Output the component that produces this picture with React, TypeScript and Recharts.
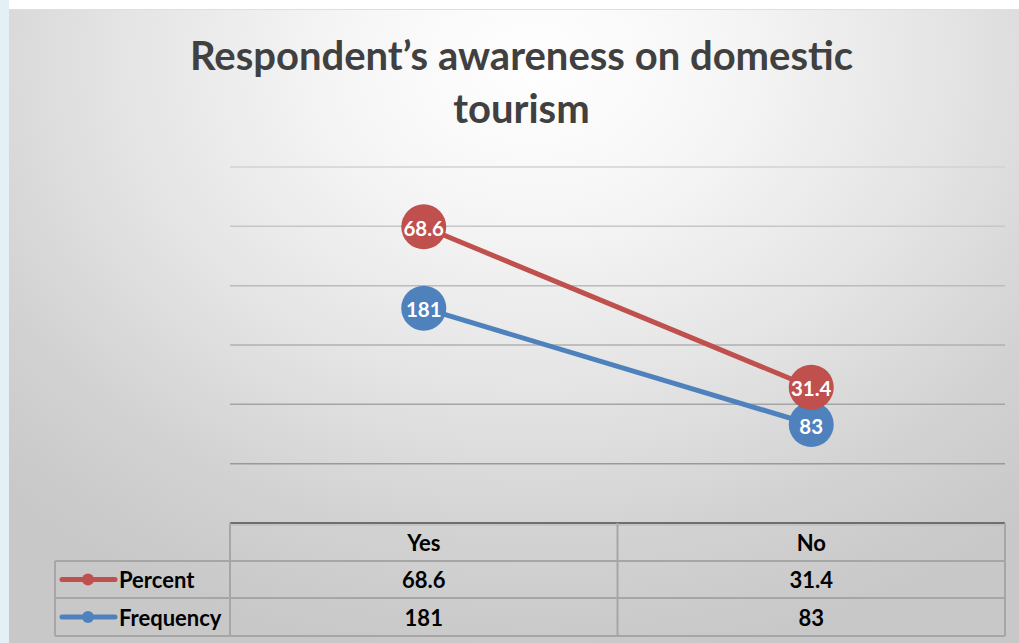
import React from 'react';
import { ComposedChart, Area, XAxis, YAxis, CartesianGrid, LabelList } from 'recharts';

const categories = ['Yes', 'No'];
const percentValues = [68.6, 31.4];
const frequencyValues = [181, 83];
const yTicks = [0, 50, 100, 150, 200, 250, 300];

const seriesInfo = [
  { key: 'percent', name: 'Percent', color: '#c0504d', values: percentValues },
  { key: 'frequency', name: 'Frequency', color: '#4f81bd', values: frequencyValues },
];

const data = categories.map((c, i) => ({
  cat: c,
  percent: percentValues[i],
  frequency: frequencyValues[i],
}));

const W = 1019;
const H = 643;
const PLOT_LEFT = 230;
const PLOT_RIGHT = 1005;
const PLOT_TOP = 167;
const PLOT_BOTTOM = 523;
const FONT = 'Lato, "Open Sans", sans-serif';
const DOT_R = 22.5;

const renderLabel = (props: any) => {
  const { x, y, value } = props;
  return (
    <text
      x={x}
      y={y + 1}
      textAnchor="middle"
      dominantBaseline="central"
      fill="#ffffff"
      fontFamily={FONT}
      fontWeight={700}
      fontSize={20.5}
    >
      {value}
    </text>
  );
};

const makeDot = (color: string) => (p: any) => {
  if (p.cx == null || p.cy == null) return <g key={p.index} />;
  return <circle key={p.index} cx={p.cx} cy={p.cy} r={DOT_R} fill={color} stroke="none" />;
};

function DataTable() {
  const colW = (PLOT_RIGHT - PLOT_LEFT) / categories.length;
  const rowTops = [523, 561, 598, 636];
  const labelLeft = 55;
  const line = '#a6a6a6';
  const fs = 22;
  return (
    <svg width={W} height={H} style={{ position: 'absolute', left: 0, top: 0, pointerEvents: 'none' }}>
      <line x1={PLOT_LEFT} x2={PLOT_RIGHT} y1={rowTops[0]} y2={rowTops[0]} stroke="#6e6e6e" strokeWidth={2} />
      <line x1={PLOT_LEFT} x2={PLOT_RIGHT} y1={rowTops[0] + 2} y2={rowTops[0] + 2} stroke="#b5b5b5" strokeWidth={1} />
      <line x1={labelLeft} x2={PLOT_RIGHT} y1={rowTops[1]} y2={rowTops[1]} stroke={line} strokeWidth={2} />
      <line x1={labelLeft} x2={PLOT_RIGHT} y1={rowTops[2]} y2={rowTops[2]} stroke={line} strokeWidth={2} />
      <line x1={labelLeft} x2={PLOT_RIGHT} y1={rowTops[3]} y2={rowTops[3]} stroke={line} strokeWidth={2} />
      <line x1={labelLeft} x2={labelLeft} y1={rowTops[1]} y2={rowTops[3]} stroke={line} strokeWidth={2} />
      {categories.map((_, i) => (
        <line
          key={'v' + i}
          x1={PLOT_LEFT + i * colW}
          x2={PLOT_LEFT + i * colW}
          y1={rowTops[0]}
          y2={rowTops[3]}
          stroke={line}
          strokeWidth={2}
        />
      ))}
      <line x1={PLOT_RIGHT} x2={PLOT_RIGHT} y1={rowTops[0]} y2={rowTops[3]} stroke={line} strokeWidth={2} />
      {categories.map((c, i) => (
        <text
          key={'h' + i}
          x={PLOT_LEFT + (i + 0.5) * colW}
          y={(rowTops[0] + rowTops[1]) / 2}
          textAnchor="middle"
          dominantBaseline="central"
          fontFamily={FONT}
          fontWeight={700}
          fontSize={fs}
          fill="#000"
        >
          {c}
        </text>
      ))}
      {seriesInfo.map((s, r) => {
        const cy = (rowTops[r + 1] + rowTops[r + 2]) / 2;
        return (
          <g key={s.key}>
            <line x1={62} x2={115} y1={cy} y2={cy} stroke={s.color} strokeWidth={5} strokeLinecap="round" />
            <circle cx={88} cy={cy} r={6} fill={s.color} />
            <text
              x={119}
              y={cy}
              dominantBaseline="central"
              fontFamily={FONT}
              fontWeight={700}
              fontSize={fs}
              fill="#000"
            >
              {s.name}
            </text>
            {s.values.map((v, i) => (
              <text
                key={i}
                x={PLOT_LEFT + (i + 0.5) * colW}
                y={cy}
                textAnchor="middle"
                dominantBaseline="central"
                fontFamily={FONT}
                fontWeight={700}
                fontSize={fs}
                fill="#000"
              >
                {v}
              </text>
            ))}
          </g>
        );
      })}
    </svg>
  );
}

export default function App() {
  const bandPad = (PLOT_RIGHT - PLOT_LEFT) / categories.length / 2;
  return (
    <div style={{ position: 'absolute', left: 0, top: 0, width: W, height: H, background: '#ffffff', overflow: 'hidden' }}>
      <div style={{ position: 'absolute', left: 0, top: 0, width: 9, height: H, background: '#e3f0f5' }} />
      <div style={{ position: 'absolute', left: 9, top: 9, width: W - 9, height: 1, background: '#cfe5ee' }} />
      <div
        style={{
          position: 'absolute',
          left: 9,
          top: 10,
          width: W - 9,
          height: H - 10,
          background:
            'radial-gradient(ellipse 75% 95% at 52% 8%, #ffffff 0%, #f6f6f6 25%, #e4e4e4 55%, #d2d2d2 80%, #c8c8c8 100%)',
        }}
      />
      <div
        style={{
          position: 'absolute',
          left: 0,
          top: 29,
          width: 1043,
          textAlign: 'center',
          fontFamily: FONT,
          fontWeight: 700,
          fontSize: 40,
          lineHeight: '53px',
          color: '#404040',
        }}
      >
        Respondent’s awareness on domestic
        <br />
        tourism
      </div>
      <div style={{ position: 'absolute', left: 0, top: 0 }}>
        <ComposedChart
          width={W}
          height={H}
          data={data}
          margin={{ top: PLOT_TOP, right: W - PLOT_RIGHT, bottom: H - PLOT_BOTTOM, left: PLOT_LEFT }}
        >
          <defs>
            <linearGradient id="gridGrad" gradientUnits="userSpaceOnUse" x1="0" y1={PLOT_TOP} x2="0" y2={PLOT_BOTTOM}>
              <stop offset="0%" stopColor="#d2d2d2" />
              <stop offset="100%" stopColor="#8e8e8e" />
            </linearGradient>
          </defs>
          <CartesianGrid vertical={false} stroke="url(#gridGrad)" strokeWidth={1.5} />
          <XAxis dataKey="cat" hide padding={{ left: bandPad, right: bandPad }} />
          <YAxis hide domain={[0, 300]} ticks={yTicks} />
          <Area
            type="linear"
            dataKey="frequency"
            stackId="s"
            stroke="#4f81bd"
            strokeWidth={5}
            fill="none"
            fillOpacity={0}
            dot={makeDot('#4f81bd')}
            activeDot={false}
            isAnimationActive={false}
          >
            <LabelList dataKey="frequency" content={renderLabel} />
          </Area>
          <Area
            type="linear"
            dataKey="percent"
            stackId="s"
            stroke="#c0504d"
            strokeWidth={5}
            fill="none"
            fillOpacity={0}
            dot={makeDot('#c0504d')}
            activeDot={false}
            isAnimationActive={false}
          >
            <LabelList dataKey="percent" content={renderLabel} />
          </Area>
        </ComposedChart>
      </div>
      <DataTable />
    </div>
  );
}
